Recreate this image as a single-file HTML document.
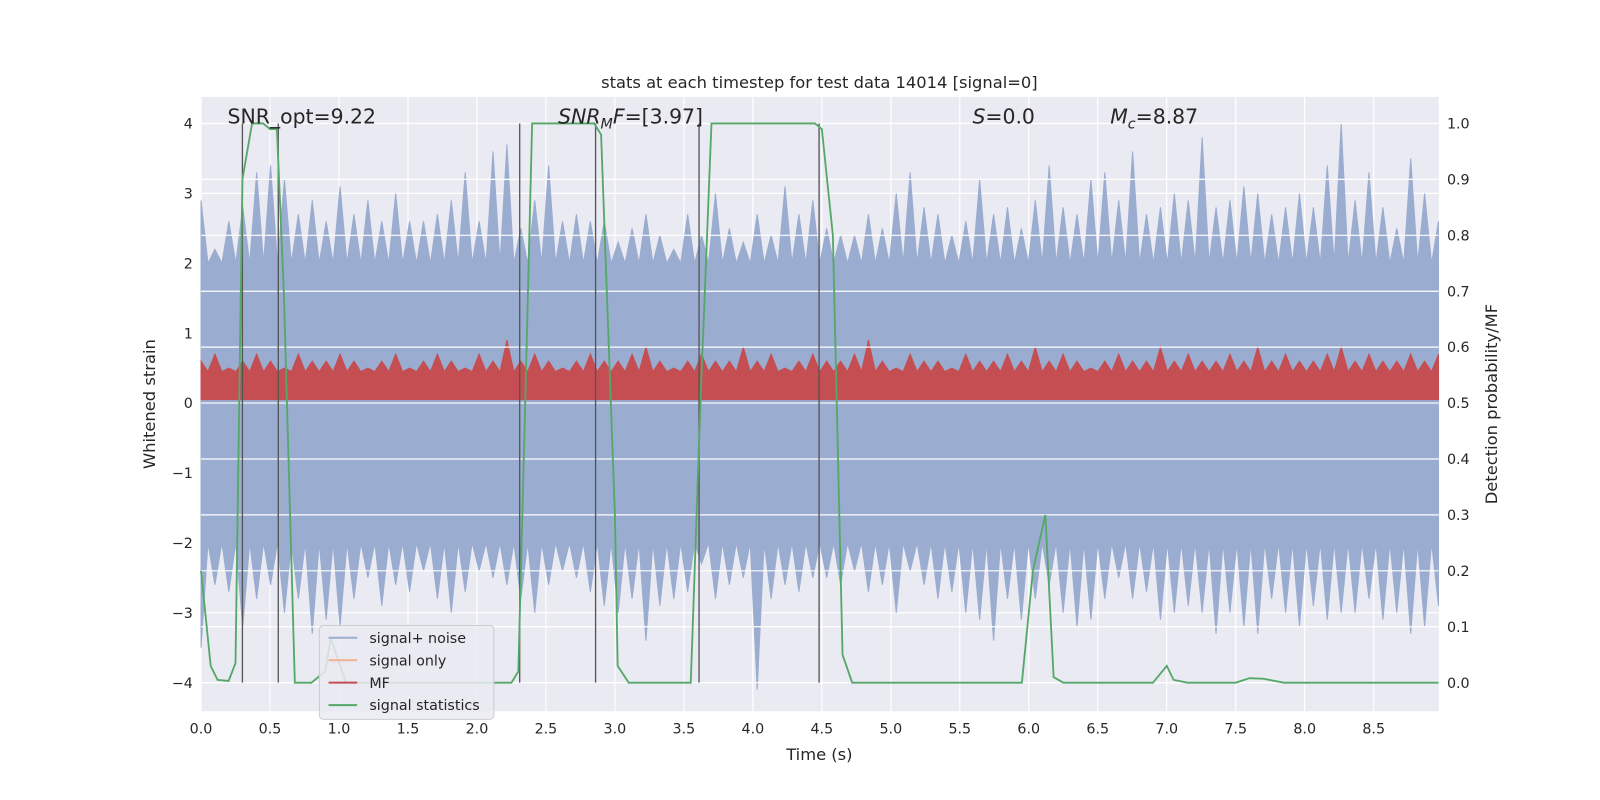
<!DOCTYPE html>
<html><head><meta charset="utf-8"><style>
html,body{margin:0;padding:0;background:#fff;overflow:hidden;width:1600px;height:800px}
svg{display:block}
svg text{font-family:"DejaVu Sans","Liberation Sans",sans-serif;fill:#262626}
</style></head><body>
<svg id="c" width="1600" height="800" viewBox="0 0 1568 784"></svg>
<script>
const noiseUpper=[2.9,2.2,2.6,2.8,3.3,3.4,3.2,2.7,2.9,2.6,3.1,2.7,2.9,2.6,3.0,2.6,2.6,2.7,2.9,3.3,2.6,3.6,3.7,2.5,2.9,3.4,2.6,2.7,2.6,2.6,2.3,2.5,2.7,2.4,2.2,2.7,2.4,3.0,2.5,2.3,2.7,2.4,3.1,2.7,2.9,2.5,2.4,2.4,2.7,2.5,3.0,3.3,2.8,2.7,2.4,2.6,3.2,2.7,2.8,2.5,2.9,3.4,2.8,2.7,3.2,3.3,2.9,3.6,2.7,2.8,3.0,2.9,3.8,2.8,2.9,3.1,3.0,2.7,2.8,3.0,2.8,3.4,4.0,2.9,3.3,2.8,2.5,3.5,3.0,2.6];
const noiseLower=[-3.5,-2.6,-2.7,-3.2,-2.8,-2.6,-3.0,-2.8,-3.3,-3.1,-3.2,-2.8,-2.5,-2.9,-2.6,-2.7,-2.4,-2.8,-3.0,-2.7,-2.4,-2.5,-2.6,-2.8,-3.0,-2.6,-2.4,-2.5,-2.7,-2.9,-3.0,-2.8,-3.4,-2.9,-2.8,-2.7,-2.3,-2.8,-2.6,-2.5,-4.1,-2.8,-2.6,-2.7,-2.5,-2.5,-2.6,-2.4,-2.7,-2.6,-3.0,-2.4,-2.6,-2.8,-2.7,-3.0,-3.1,-3.4,-2.8,-3.1,-2.8,-2.6,-3.0,-3.2,-3.1,-2.8,-2.5,-2.8,-2.7,-3.1,-3.0,-2.9,-3.0,-3.3,-3.0,-3.2,-3.3,-2.8,-3.0,-3.2,-2.9,-3.1,-3.0,-3.0,-2.8,-3.1,-3.0,-3.3,-3.2,-2.9];
const mfUpper=[0.6,0.7,0.5,0.6,0.7,0.6,0.5,0.7,0.6,0.6,0.7,0.6,0.5,0.6,0.7,0.5,0.6,0.7,0.6,0.5,0.7,0.6,0.9,0.6,0.7,0.6,0.5,0.6,0.7,0.6,0.6,0.7,0.8,0.6,0.5,0.6,0.7,0.6,0.6,0.8,0.6,0.7,0.5,0.6,0.7,0.6,0.6,0.7,0.9,0.6,0.5,0.7,0.6,0.6,0.5,0.7,0.6,0.6,0.7,0.6,0.8,0.6,0.7,0.6,0.5,0.6,0.7,0.6,0.6,0.8,0.6,0.7,0.6,0.6,0.7,0.6,0.8,0.6,0.7,0.6,0.6,0.7,0.8,0.6,0.7,0.6,0.6,0.7,0.6,0.7];
const statT=[0,0.07,0.12,0.2,0.25,0.3,0.37,0.45,0.5,0.55,0.6,0.68,0.8,0.9,0.94,1.05,2.25,2.3,2.35,2.4,2.85,2.9,3.0,3.02,3.1,3.55,3.62,3.7,4.45,4.5,4.58,4.65,4.72,5.95,6.03,6.12,6.18,6.25,6.9,7.0,7.05,7.15,7.5,7.6,7.7,7.85,8.97];
const statP=[0.2,0.03,0.005,0.003,0.035,0.9,1.0,1.0,0.99,0.99,0.7,0.0,0.0,0.02,0.08,0.0,0.0,0.02,0.5,1.0,1.0,0.98,0.3,0.03,0.0,0.0,0.5,1.0,1.0,0.99,0.8,0.05,0.0,0.0,0.2,0.3,0.01,0.0,0.0,0.03,0.005,0.0,0.0,0.008,0.007,0.0,0.0];
const vlines=[0.30,0.56,2.31,2.86,3.61,4.48];
const xTicks=[0,0.5,1,1.5,2,2.5,3,3.5,4,4.5,5,5.5,6,6.5,7,7.5,8,8.5];
const yTicks=[-4,-3,-2,-1,0,1,2,3,4];
const y2Ticks=[0,0.1,0.2,0.3,0.4,0.5,0.6,0.7,0.8,0.9,1.0];

const L=197,R=1410,T=95,B=697;
const X=t=>L+t*135.2;
const Y=v=>395-v*68.5;
const Y2=p=>669-p*548;
const svg=document.getElementById('c');
const NS='http://www.w3.org/2000/svg';
function mk(tag,at,parent){const e=document.createElementNS(NS,tag);for(const k in at)e.setAttribute(k,at[k]);(parent||svg).appendChild(e);return e;}

let e=mk('rect',{x:L,y:T,width:R-L,height:B-T,fill:'#eaeaf2'});


const g=mk('g',{});


xTicks.forEach(t=>mk('line',{x1:X(t),x2:X(t),y1:T,y2:B,stroke:'#fff','stroke-width':1.2},g));
yTicks.forEach(v=>mk('line',{x1:L,x2:R,y1:Y(v),y2:Y(v),stroke:'#fff','stroke-width':1.2},g));

let pts=[];
const nstep=(8.97)/(noiseUpper.length-1);
noiseUpper.forEach((v,i)=>{pts.push([X(i*nstep),Y(v)]);pts.push([X((i+0.5)*nstep),Y(Math.min(v,2.0))]);});
pts.pop();
for(let i=noiseLower.length-1;i>=0;i--){pts.push([X(i*nstep),Y(noiseLower[i])]);if(i>0)pts.push([X((i-0.5)*nstep),Y(Math.max(noiseLower[i],-2.0))]);}
e=mk('polygon',{points:pts.map(p=>p.join(',')).join(' '),fill:'#9aaccf',stroke:'#9aaccf','stroke-width':1});



pts=[];
const mstep=8.97/(mfUpper.length-1);
mfUpper.forEach((v,i)=>{pts.push([X(i*mstep),Y(v)]);pts.push([X((i+0.5)*mstep),Y(0.45)]);});
pts.pop();
pts.push([X(8.97),Y(0.05)]);pts.push([X(0),Y(0.05)]);
e=mk('polygon',{points:pts.map(p=>p.join(',')).join(' '),fill:'#c44e52',stroke:'#c44e52','stroke-width':1});



const g2=mk('g',{});


y2Ticks.forEach(p=>mk('line',{x1:L,x2:R,y1:Y2(p),y2:Y2(p),stroke:'#fff','stroke-width':1.2},g2));

vlines.forEach(t=>{const l=mk('line',{x1:X(t),x2:X(t),y1:Y2(1),y2:Y2(0),stroke:'#555','stroke-width':1.3});

});

e=mk('polyline',{points:statT.map((t,i)=>X(t)+','+Y2(statP[i])).join(' '),fill:'none',stroke:'#55a868','stroke-width':1.8});



xTicks.forEach(t=>{const tx=mk('text',{x:X(t),y:B+22,'font-size':14,'text-anchor':'middle'});tx.textContent=t.toFixed(1);

});
yTicks.forEach(v=>{const tx=mk('text',{x:L-8,y:Y(v)+5,'font-size':14,'text-anchor':'end'});tx.textContent=v<0?'\u2212'+(-v):v;

});
y2Ticks.forEach(p=>{const tx=mk('text',{x:R+8,y:Y2(p)+5,'font-size':14});tx.textContent=p.toFixed(1);

});

function txt(s,at,name){const t=mk('text',at);t.innerHTML=s;return t;}
txt('stats at each timestep for test data 14014 [signal=0]',{x:803,y:86,'font-size':16,'text-anchor':'middle'},'chart-title');
txt('Time (s)',{x:803,y:745,'font-size':16,'text-anchor':'middle'},'x-axis-title');
txt('Whitened strain',{x:152,y:396,'font-size':16,'text-anchor':'middle',transform:'rotate(-90 152 396)'},'y-axis-title');
txt('Detection probability/MF',{x:1467,y:396,'font-size':16,'text-anchor':'middle',transform:'rotate(-90 1467 396)'},'y2-axis-title');
txt('SNR_opt=9.22',{x:223,y:121,'font-size':20},'snr-opt-annotation');
txt('<tspan font-style="italic">SNR</tspan><tspan font-style="italic" font-size="14" dy="5">M</tspan><tspan font-style="italic" dy="-5">F</tspan>=[3.97]',{x:547,y:121,'font-size':20},'snr-mf-annotation');
txt('<tspan font-style="italic">S</tspan>=0.0',{x:953,y:121,'font-size':20},'s-annotation');
txt('<tspan font-style="italic">M</tspan><tspan font-style="italic" font-size="14" dy="5">c</tspan><tspan dy="-5">=8.87</tspan>',{x:1088,y:121,'font-size':20},'mc-annotation');

const lg=mk('g',{});


mk('rect',{x:313,y:613,width:171,height:92,rx:4,fill:'#eaeaf2','fill-opacity':0.85,stroke:'#ccc'},lg);
[['signal+ noise','#9aaccf'],['signal only','#f2b496'],['MF','#c44e52'],['signal statistics','#55a868']].forEach((d,i)=>{
 const yy=625+i*22;
 mk('line',{x1:322,x2:350,y1:yy,y2:yy,stroke:d[1],'stroke-width':2},lg);
 const t=mk('text',{x:362,y:yy+5,'font-size':14},lg);t.textContent=d[0];
 
 
});
</script>
</body></html>
